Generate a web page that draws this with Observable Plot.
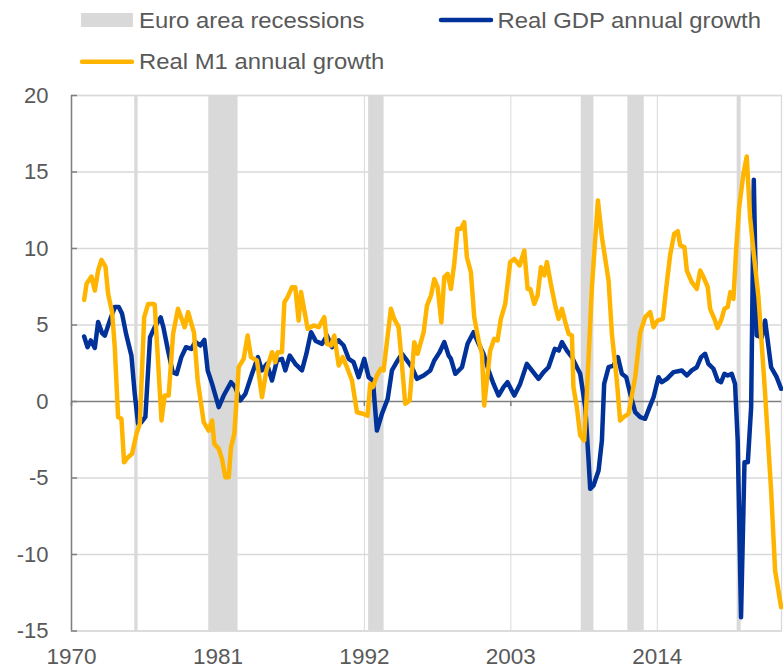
<!DOCTYPE html>
<html>
<head>
<meta charset="utf-8">
<script src="https://cdn.jsdelivr.net/npm/d3@7"></script>
<script src="https://cdn.jsdelivr.net/npm/@observablehq/plot@0.6"></script>
<style>
  body { margin: 0; background: #ffffff; }
  #wrap { width: 783px; height: 668px; overflow: hidden; position: relative; background: #fff;
          font-family: "Liberation Sans", Arial, Helvetica, sans-serif; }
  #legend { display: block; }
  #chart svg { display: block; }
</style>
</head>
<body>
<div id="wrap">
  <svg id="legend" width="783" height="80"></svg>
  <div id="chart"></div>
</div>
<script>
// ---------------- data ----------------
const seriesNames = ["Euro area recessions", "Real GDP annual growth", "Real M1 annual growth"];
const seriesColors = ["#d9d9d9", "#003299", "#ffb400"];

const recessionStart = [1974.75, 1980.31, 1992.32, 2008.29, 2011.79, 2020.0];
const recessionEnd   = [1975.0, 1982.51, 1993.48, 2009.24, 2013.02, 2020.3];

const xTicks = [1970, 1981, 1992, 2003, 2014];
const yTicks = [-15, -10, -5, 0, 5, 10, 15, 20];
const xDomain = [1970, 2023.33];
const yDomain = [-15, 20];

const gdpYears = [
  1970.95, 1971.2, 1971.45, 1971.75, 1972.0, 1972.3, 1972.5, 1972.88, 1973.25, 1973.55, 1973.8,
  1974.1, 1974.5, 1974.75, 1975.0, 1975.25, 1975.55, 1975.9, 1976.25, 1976.7, 1976.9, 1977.25,
  1977.6, 1977.9, 1978.25, 1978.6, 1979.0, 1979.3, 1979.68, 1979.98, 1980.23, 1980.56, 1981.06,
  1981.43, 1981.98, 1982.3, 1982.68, 1983.06, 1983.56, 1984.0, 1984.3, 1984.68, 1985.06, 1985.43,
  1985.81, 1986.06, 1986.39, 1986.81, 1987.31, 1987.64, 1987.99, 1988.35, 1988.82, 1989.19,
  1989.57, 1990.07, 1990.44, 1990.82, 1991.19, 1991.57, 1991.99, 1992.32, 1992.64, 1992.94,
  1993.32, 1993.75, 1994.07, 1994.5, 1994.82, 1995.2, 1995.57, 1995.95, 1996.45, 1996.95,
  1997.25, 1997.65, 1998.0, 1998.33, 1998.5, 1998.83, 1999.33, 1999.75, 2000.2, 2000.58,
  2000.95, 2001.33, 2001.7, 2002.08, 2002.45, 2002.75, 2003.26, 2003.7, 2004.2, 2004.58,
  2005.08, 2005.46, 2005.83, 2006.3, 2006.6, 2006.84, 2007.21, 2007.59, 2007.96, 2008.21,
  2008.59, 2008.84, 2008.96, 2009.21, 2009.59, 2009.84, 2010.01, 2010.34, 2010.71, 2011.04,
  2011.34, 2011.67, 2011.97, 2012.34, 2012.72, 2013.09, 2013.42, 2013.72, 2014.09, 2014.34,
  2014.72, 2015.22, 2015.84, 2016.22, 2016.59, 2016.97, 2017.29, 2017.59, 2017.84, 2018.22,
  2018.54, 2018.79, 2019.04, 2019.29, 2019.59, 2019.84, 2020.04, 2020.29, 2020.55, 2020.8,
  2021.05, 2021.25, 2021.47, 2021.85, 2022.1, 2022.55, 2022.97, 2023.3
];
const gdpValues = [
  4.25, 3.55, 3.99, 3.5, 5.19, 4.47, 4.3, 5.3, 6.17, 6.17, 5.73,
  4.42, 3.0, 0.5, -1.46, -1.35, -1.0, 4.2, 4.86, 5.5, 4.86, 3.33,
  1.92, 1.8, 2.9, 3.55, 3.44, 3.9, 3.66, 4.03, 2.03, 1.15, -0.37,
  0.39, 1.26, 0.94, 0.07, 0.5, 1.81, 2.9, 2.03, 2.46, 1.37, 2.68,
  2.79, 2.03, 3.0, 2.46, 2.03, 3.11, 4.53, 3.95, 3.77, 4.31,
  3.55, 3.99, 3.66, 2.79, 2.57, 1.59, 2.79, 1.59, 1.37, -1.9,
  -0.8, 0.17, 2.03, 2.68, 3.11, 2.68, 2.24, 1.48, 1.7, 2.03,
  2.68, 3.22, 3.88, 3.0, 2.79, 1.81, 2.24, 3.77, 4.53, 3.77,
  3.11, 2.03, 1.15, 0.39, 0.94, 1.26, 0.39, 1.15, 2.46, 2.03,
  1.48, 1.92, 2.24, 3.44, 3.33, 3.88, 3.33, 2.9, 2.24, 1.81,
  -0.37, -3.86, -5.71, -5.49, -4.51, -2.55, 1.15, 2.24, 2.35, 2.9,
  1.81, 1.59, 0.5, -0.7, -1.02, -1.13, -0.37, 0.28, 1.59, 1.26,
  1.48, 1.92, 2.03, 1.7, 2.03, 2.24, 2.9, 3.12, 2.46, 2.14,
  1.37, 1.26, 1.81, 1.7, 1.81, 1.15, -2.55, -14.1, -3.97, -3.97,
  -0.37, 14.49, 4.31, 4.2, 5.29, 2.24, 1.59, 0.83
];

const m1Years = [
  1970.95, 1971.13, 1971.5, 1971.75, 1972.0, 1972.25, 1972.55, 1972.75, 1973.05, 1973.25, 1973.5,
  1973.75, 1973.95, 1974.25, 1974.55, 1974.88, 1975.13, 1975.46, 1975.76, 1976.13, 1976.25,
  1976.76, 1977.0, 1977.3, 1977.63, 1978.0, 1978.5, 1978.76, 1979.2, 1979.48, 1979.93, 1980.3,
  1980.56, 1980.73, 1981.06, 1981.3, 1981.56, 1981.81, 1981.98, 1982.23, 1982.56, 1982.93,
  1983.23, 1983.48, 1983.93, 1984.31, 1984.64, 1985.06, 1985.31, 1985.48, 1985.81, 1985.99,
  1986.23, 1986.56, 1986.81, 1987.06, 1987.24, 1987.74, 1988.19, 1988.57, 1988.99, 1989.19,
  1989.49, 1989.74, 1990.07, 1990.37, 1990.69, 1991.07, 1991.44, 1991.89, 1992.24, 1992.44,
  1992.64, 1992.94, 1993.24, 1993.44, 1993.99, 1994.24, 1994.57, 1994.75, 1995.07, 1995.4,
  1995.75, 1996.0, 1996.45, 1996.7, 1997.0, 1997.25, 1997.5, 1997.78, 1998.0, 1998.25, 1998.5,
  1998.75, 1999.0, 1999.25, 1999.5, 1999.7, 2000.0, 2000.25, 2000.58, 2000.83, 2001.0, 2001.2,
  2001.45, 2001.75, 2002.0, 2002.25, 2002.58, 2002.95, 2003.26, 2003.66, 2004.01, 2004.26,
  2004.46, 2004.76, 2005.01, 2005.26, 2005.51, 2005.71, 2006.0, 2006.35, 2006.59, 2006.84,
  2007.09, 2007.34, 2007.59, 2007.7, 2007.96, 2008.21, 2008.51, 2008.71, 2009.09, 2009.54,
  2009.84, 2010.34, 2010.59, 2010.96, 2011.21, 2011.46, 2011.84, 2012.34, 2012.72, 2013.09,
  2013.47, 2013.72, 2014.02, 2014.42, 2014.67, 2014.97, 2015.27, 2015.54, 2015.72, 2016.04,
  2016.22, 2016.59, 2016.97, 2017.22, 2017.47, 2017.79, 2017.97, 2018.29, 2018.52, 2018.79,
  2019.04, 2019.29, 2019.49, 2019.72, 2019.92, 2020.15, 2020.47, 2020.72, 2020.97, 2021.22,
  2021.6, 2022.1, 2022.55, 2022.85, 2023.3
];
const m1Values = [
  6.64, 7.69, 8.17, 7.25, 8.56, 9.26, 8.82, 7.04, 5.84, 3.55, -1.02,
  -1.13, -3.97, -3.64, -3.42, -2.11, -1.46, 5.51, 6.38, 6.38, 6.34,
  -1.24, 0.39, 0.39, 4.42, 6.06, 4.86, 5.84, 4.5, 1.37, -1.35, -1.9,
  -1.24, -2.77, -3.09, -3.75, -4.95, -4.95, -2.98, -2.11, 2.24, 2.79,
  4.31, 2.9, 2.68, 0.28, 2.03, 3.22, 2.57, 3.22, 3.22, 6.49,
  6.82, 7.47, 7.47, 5.29, 7.15, 4.75, 4.97, 4.86, 5.51, 3.77,
  3.66, 4.31, 2.35, 2.9, 2.24, 1.37, -0.7, -0.8, -0.92, 1.15,
  0.94, 1.7, 2.14, 2.03, 6.06, 5.4, 4.86, 3.12, -0.15, 0.07,
  3.88, 3.12, 4.53, 6.27, 6.93, 8.0, 7.47, 5.18, 8.13, 8.34, 7.36,
  9.0, 11.29, 11.29, 11.72, 9.43, 8.45, 5.51, 3.99, 3.12, -0.26, 1.37,
  3.33, 4.1, 3.99, 5.4, 6.38, 9.11, 9.32, 8.89, 9.87, 7.36,
  7.36, 6.38, 6.93, 8.78, 8.24, 9.11, 7.7, 6.2, 5.4, 6.06,
  5.19, 4.42, 4.31, 0.94, -0.37, -2.22, -2.55, 0.5, 7.47, 13.14,
  10.74, 7.91, 4.42, 1.37, -1.24, -1.02, -0.81, 1.59, 4.53, 5.51,
  5.84, 4.86, 5.29, 5.4, 7.4, 9.6, 10.96, 11.13, 10.2, 10.09,
  8.56, 7.8, 7.36, 8.56, 8.13, 7.47, 6.06, 5.4, 4.81, 5.29,
  6.06, 6.17, 7.15, 6.71, 9.87, 12.7, 14.88, 16.01, 12.05, 9.87,
  6.82, 0.5, -5.82, -11.05, -13.44
];

// ---------------- build tables ----------------
const gdp = gdpYears.map((x, i) => ({x, y: gdpValues[i]}));
const m1 = m1Years.map((x, i) => ({x, y: m1Values[i]}));
const recessions = recessionStart.map((s, i) => ({start: s, end: recessionEnd[i]}));

// ---------------- legend (SVG above the chart) ----------------
const TEXT = "#595959";
const AXIS = "#7f7f7f";
const legend = d3.select("#legend");
const legendLayout = [
  {kind: "rect", sx: 81, sy: 20, tx: 139, ty: 27.6},
  {kind: "line", sx: 439, sy: 20, tx: 497.5, ty: 27.6},
  {kind: "line", sx: 80, sy: 61.7, tx: 139, ty: 68.6}
];
legendLayout.forEach((L, i) => {
  if (L.kind === "rect") {
    legend.append("rect").attr("x", L.sx).attr("y", L.sy - 7).attr("width", 52).attr("height", 14)
      .attr("fill", seriesColors[i]);
  } else {
    legend.append("line").attr("x1", L.sx + 2).attr("x2", L.sx + 52).attr("y1", L.sy).attr("y2", L.sy)
      .attr("stroke", seriesColors[i]).attr("stroke-width", 4.5).attr("stroke-linecap", "round");
  }
  legend.append("text")
    .attr("transform", `translate(${L.tx},${L.ty}) scale(1.11,1)`)
    .attr("font-family", '"Liberation Sans", Arial, sans-serif')
    .attr("font-size", 21.5)
    .attr("fill", TEXT)
    .text(seriesNames[i]);
});

// ---------------- chart ----------------
const chart = Plot.plot({
  width: 783,
  height: 588,
  marginTop: 15,
  marginRight: 2,
  marginBottom: 37.5,
  marginLeft: 71,
  style: {fontFamily: '"Liberation Sans", Arial, sans-serif', fontSize: "22px", color: TEXT, background: "transparent", overflow: "visible"},
  x: {domain: xDomain},
  y: {domain: yDomain},
  marks: [
    Plot.rect(recessions, {x1: "start", x2: "end", fill: seriesColors[0]}),
    Plot.gridY({ticks: yTicks.filter(d => d !== 0), stroke: "#d9d9d9", strokeOpacity: 1, strokeWidth: 1.3}),
    Plot.gridX({ticks: xTicks, stroke: "#d9d9d9", strokeOpacity: 1, strokeWidth: 1}),
    Plot.frame({stroke: "#d9d9d9", strokeWidth: 1.3}),
    Plot.ruleY([0], {stroke: AXIS, strokeWidth: 1.5}),
    Plot.ruleX(xTicks, {y1: 0, y2: 0, insetBottom: -5, stroke: AXIS, strokeWidth: 1.5}),
    Plot.ruleX([xDomain[0]], {stroke: AXIS, strokeWidth: 1.5}),
    Plot.ruleY(yTicks, {x1: xDomain[0], x2: xDomain[0], insetRight: -6, stroke: AXIS, strokeWidth: 1.5}),
    Plot.line(gdp, {x: "x", y: "y", stroke: seriesColors[1], strokeWidth: 4.5, strokeLinejoin: "round", strokeLinecap: "round"}),
    Plot.line(m1, {x: "x", y: "y", stroke: seriesColors[2], strokeWidth: 4.5, strokeLinejoin: "round", strokeLinecap: "round"}),
    Plot.axisY({ticks: yTicks, tickSize: 0, tickPadding: 23, tickFormat: d => String(d), fontSize: 22, label: null, fill: TEXT}),
    Plot.axisX({ticks: xTicks, tickSize: 0, tickPadding: 17, tickFormat: d => String(d), fontSize: 22.5, label: null, fill: TEXT})
  ]
});
document.getElementById("chart").appendChild(chart);
</script>
</body>
</html>
